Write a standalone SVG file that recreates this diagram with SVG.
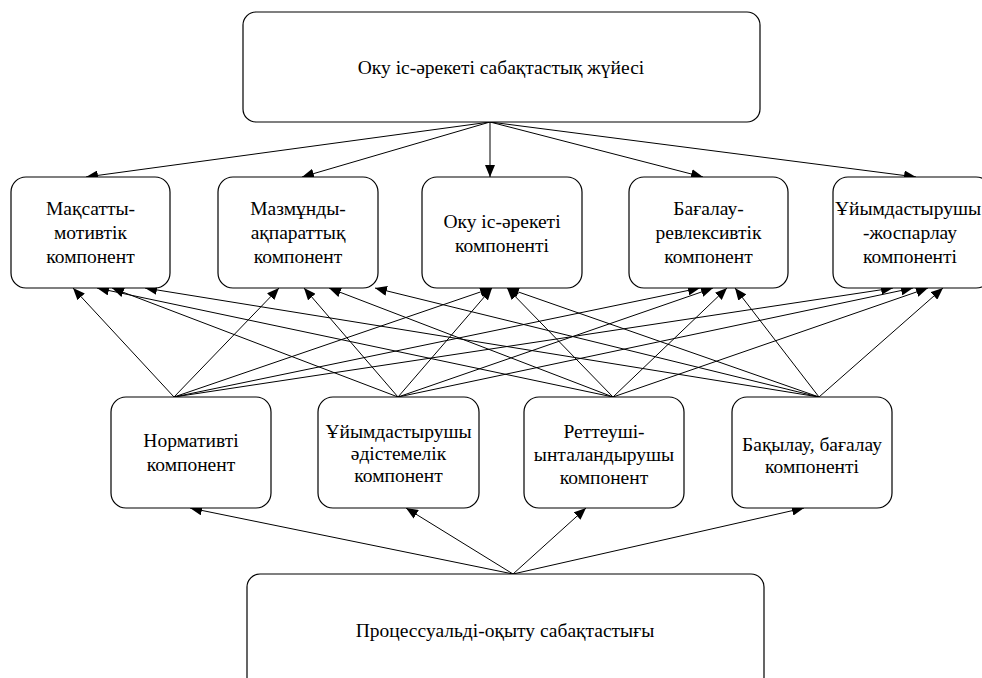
<svg xmlns="http://www.w3.org/2000/svg" width="982" height="678" viewBox="0 0 982 678">
<style>
.box{fill:#fff;stroke:#000;stroke-width:1.2}
.t{font-size:19.5px;fill:#000;text-anchor:middle}
.c line{stroke:#000;stroke-width:1;marker-end:url(#ah)}
</style>
<defs>
<marker id="ah" viewBox="0 0 12 10" refX="12" refY="5" markerWidth="12" markerHeight="10" markerUnits="userSpaceOnUse" orient="auto">
<path d="M0,0 L12,5 L0,10 z" fill="#000"/>
</marker>
</defs>
<rect width="982" height="678" fill="#fff"/>
<g class="c" id="connectors">
<line x1="490" y1="122" x2="86" y2="177"/>
<line x1="490" y1="122" x2="302" y2="177"/>
<line x1="490" y1="122" x2="490" y2="177"/>
<line x1="490" y1="122" x2="703" y2="177"/>
<line x1="490" y1="122" x2="916" y2="177"/>
<line x1="174" y1="397" x2="73" y2="288"/>
<line x1="398" y1="397" x2="112" y2="288"/>
<line x1="613" y1="397" x2="97" y2="288"/>
<line x1="819" y1="397" x2="145" y2="288"/>
<line x1="174" y1="397" x2="279" y2="288"/>
<line x1="398" y1="397" x2="304" y2="288"/>
<line x1="613" y1="397" x2="329" y2="288"/>
<line x1="819" y1="397" x2="375" y2="288"/>
<line x1="174" y1="397" x2="492" y2="288"/>
<line x1="398" y1="397" x2="492" y2="288"/>
<line x1="613" y1="397" x2="507" y2="288"/>
<line x1="819" y1="397" x2="507" y2="288"/>
<line x1="174" y1="397" x2="700" y2="288"/>
<line x1="398" y1="397" x2="713" y2="288"/>
<line x1="613" y1="397" x2="727" y2="288"/>
<line x1="819" y1="397" x2="735" y2="288"/>
<line x1="174" y1="397" x2="893" y2="288"/>
<line x1="398" y1="397" x2="913" y2="288"/>
<line x1="613" y1="397" x2="928" y2="288"/>
<line x1="819" y1="397" x2="943" y2="288"/>
<line x1="513" y1="574" x2="190" y2="508"/>
<line x1="513" y1="574" x2="406" y2="508"/>
<line x1="513" y1="574" x2="586" y2="508"/>
<line x1="513" y1="574" x2="804" y2="508"/>
</g>
<g font-family="Liberation Serif, Times New Roman, serif">
<g id="top">
<rect class="box" x="243" y="12" width="517" height="110" rx="13"/>
<text class="t" x="501" y="74">Оку іс-әрекеті сабақтастық жүйесі</text>
</g>
<g id="n1">
<rect class="box" x="11" y="177" width="159" height="111" rx="15"/>
<text class="t" x="90.5" y="215">Мақсатты-</text>
<text class="t" x="90.5" y="239">мотивтік</text>
<text class="t" x="90.5" y="263">компонент</text>
</g>
<g id="n2">
<rect class="box" x="218" y="177" width="160" height="111" rx="15"/>
<text class="t" x="298" y="215">Мазмұнды-</text>
<text class="t" x="298" y="239">ақпараттық</text>
<text class="t" x="298" y="263">компонент</text>
</g>
<g id="n3">
<rect class="box" x="422" y="177" width="160" height="111" rx="15"/>
<text class="t" x="502" y="228">Оку іс-әрекеті</text>
<text class="t" x="502" y="252">компоненті</text>
</g>
<g id="n4">
<rect class="box" x="629" y="177" width="159" height="111" rx="15"/>
<text class="t" x="708.5" y="215">Бағалау-</text>
<text class="t" x="708.5" y="239">ревлексивтік</text>
<text class="t" x="708.5" y="263">компонент</text>
</g>
<g id="n5">
<rect class="box" x="833" y="177" width="158" height="111" rx="15"/>
<text class="t" x="908" y="215" font-size="19">Ұйымдастырушы</text>
<text class="t" x="910" y="239">-жоспарлау</text>
<text class="t" x="910" y="263">компоненті</text>
</g>
<g id="m1">
<rect class="box" x="111" y="397" width="160" height="111" rx="15"/>
<text class="t" x="191" y="447">Нормативті</text>
<text class="t" x="191" y="471">компонент</text>
</g>
<g id="m2">
<rect class="box" x="318" y="397" width="161" height="111" rx="15"/>
<text class="t" x="398.5" y="438">Ұйымдастырушы</text>
<text class="t" x="398.5" y="460">әдістемелік</text>
<text class="t" x="398.5" y="482">компонент</text>
</g>
<g id="m3">
<rect class="box" x="524" y="397" width="160" height="111" rx="15"/>
<text class="t" x="604" y="438">Реттеуші-</text>
<text class="t" x="604" y="461">ынталандырушы</text>
<text class="t" x="604" y="484">компонент</text>
</g>
<g id="m4">
<rect class="box" x="732" y="397" width="160" height="111" rx="15"/>
<text class="t" x="812" y="451">Бақылау, бағалау</text>
<text class="t" x="812" y="473">компоненті</text>
</g>
<g id="bottom">
<rect class="box" x="247" y="574" width="517" height="116" rx="13"/>
<text class="t" x="505" y="637">Процессуальді-оқыту сабақтастығы</text>
</g>
</g>
</svg>
